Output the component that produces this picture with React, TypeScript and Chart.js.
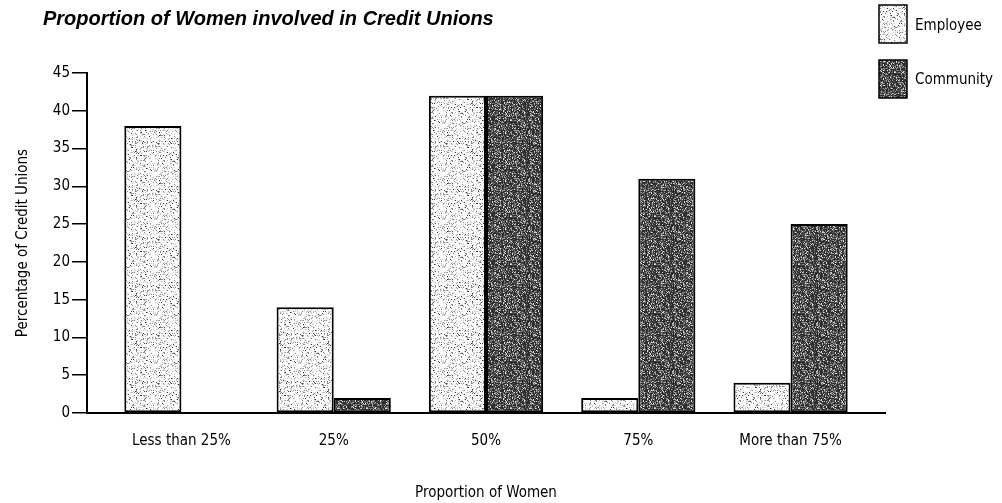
import React, { useEffect, useRef } from "react";
import { Chart, registerables } from "chart.js";

Chart.register(...registerables);

const titleText = "Proportion of Women involved in Credit Unions";
const categories = ["Less than 25%", "25%", "50%", "75%", "More than 75%"];
const employee = [38, 14, 42, 2, 4];
const community = [0, 2, 42, 31, 25];
const seriesNames = ["Employee", "Community"];
const yTicks = [0, 5, 10, 15, 20, 25, 30, 35, 40, 45];
const xAxisTitle = "Proportion of Women";
const yAxisTitle = "Percentage of Credit Unions";

const NARROW = '"Liberation Sans Narrow", "DejaVu Sans Condensed", "Liberation Sans", sans-serif';
const FS = 15;

function hash(x: number, y: number, seed: number) {
  let h = (Math.imul(x, 374761393) + Math.imul(y, 668265263) + seed) | 0;
  h = Math.imul(h ^ (h >>> 13), 1274126177);
  h ^= h >>> 16;
  return (h >>> 0) % 1000;
}

function makePattern(base: string, dots: [string, number][], seed: number) {
  const size = 48;
  const c = document.createElement("canvas");
  c.width = size;
  c.height = size;
  const g = c.getContext("2d")!;
  g.fillStyle = base;
  g.fillRect(0, 0, size, size);
  for (let y = 0; y < size; y++) {
    for (let x = 0; x < size; x++) {
      const v = hash(x, y, seed);
      let acc = 0;
      for (const [col, th] of dots) {
        acc += th;
        if (v < acc) {
          g.fillStyle = col;
          g.fillRect(x, y, 1, 1);
          break;
        }
      }
    }
  }
  return g.createPattern(c, "repeat")!;
}

const decorPlugin = {
  id: "decor",
  afterDraw(chart: any) {
    const ctx = chart.ctx as CanvasRenderingContext2D;
    ctx.save();
    ctx.fillStyle = "#000";
    ctx.font = 'italic bold 20px "Liberation Sans", Arial, sans-serif';
    ctx.textAlign = "left";
    ctx.textBaseline = "alphabetic";
    ctx.fillText(titleText, 43, 25);

    const boxes = [
      { y: 5, base: 30 },
      { y: 60, base: 84 },
    ];
    chart.data.datasets.forEach((ds: any, i: number) => {
      const b = boxes[i];
      ctx.fillStyle = ds.backgroundColor;
      ctx.fillRect(879, b.y, 28, 38);
      ctx.strokeStyle = "#000";
      ctx.lineWidth = 1.5;
      ctx.strokeRect(879, b.y, 28, 38);
      ctx.fillStyle = "#000";
      ctx.font = FS + "px " + NARROW;
      ctx.fillText(ds.label, 915, b.base);
    });
    ctx.restore();
  },
};

export default function App() {
  const ref = useRef<HTMLCanvasElement>(null);

  useEffect(() => {
    const canvas = ref.current!;
    const empPattern = makePattern("#fbfbfb", [["#8a8a8a", 90], ["#3a3a3a", 30], ["#c8c8c8", 110]], 17);
    const comPattern = makePattern("#2e2e2e", [["#9a9a9a", 170], ["#dcdcdc", 80], ["#5e5e5e", 220]], 91);

    const chart = new Chart(canvas, {
      type: "bar",
      data: {
        datasets: [
          {
            label: seriesNames[0],
            data: categories.map((_, i) => ({ x: i, y: employee[i] })),
            backgroundColor: empPattern as any,
            borderColor: "#000",
            borderWidth: 2,
            borderSkipped: false,
          },
          {
            label: seriesNames[1],
            data: categories.map((_, i) => ({ x: i, y: community[i] })),
            backgroundColor: comPattern as any,
            borderColor: "#000",
            borderWidth: 2,
            borderSkipped: false,
          },
        ],
      },
      options: {
        responsive: false,
        animation: false,
        layout: { padding: { left: 0, right: 117, top: 73, bottom: 0 } },
        datasets: { bar: { categoryPercentage: 0.75, barPercentage: 1 } },
        plugins: {
          legend: { display: false },
          title: { display: false },
          tooltip: { enabled: false },
        },
        scales: {
          x: {
            type: "linear",
            min: -0.62,
            max: 4.62,
            offset: false,
            afterFit: (s: any) => {
              s.height = 90;
            },
            afterBuildTicks: (s: any) => {
              s.ticks = categories.map((_, i) => ({ value: i }));
            },
            grid: { display: false, drawTicks: false, offset: false },
            border: { display: true, color: "#000", width: 2 },
            ticks: {
              autoSkip: false,
              maxRotation: 0,
              padding: 19,
              color: "#000",
              font: { family: NARROW, size: FS },
              callback: (v: any) => categories[Math.round(Number(v))] ?? "",
            },
            title: {
              display: true,
              text: xAxisTitle,
              color: "#000",
              font: { family: NARROW, size: FS },
              padding: { top: 0, bottom: 1 },
            },
          },
          y: {
            type: "linear",
            min: 0,
            max: 45,
            afterFit: (s: any) => {
              s.width = 87;
            },
            afterBuildTicks: (s: any) => {
              s.ticks = yTicks.map((v) => ({ value: v }));
            },
            grid: {
              drawOnChartArea: false,
              drawTicks: true,
              tickLength: 15,
              color: "#000",
              lineWidth: 1.5,
            },
            border: { display: true, color: "#000", width: 2 },
            ticks: {
              padding: 2,
              color: "#000",
              font: { family: NARROW, size: FS },
            },
            title: {
              display: true,
              text: yAxisTitle,
              color: "#000",
              font: { family: NARROW, size: FS },
              padding: { top: 14, bottom: 0 },
            },
          },
        },
      },
      plugins: [decorPlugin],
    } as any);

    return () => chart.destroy();
  }, []);

  return (
    <div style={{ position: "fixed", left: 0, top: 0, width: 1002, height: 503, background: "#fff" }}>
      <canvas ref={ref} width={1002} height={503} style={{ display: "block" }} />
    </div>
  );
}
